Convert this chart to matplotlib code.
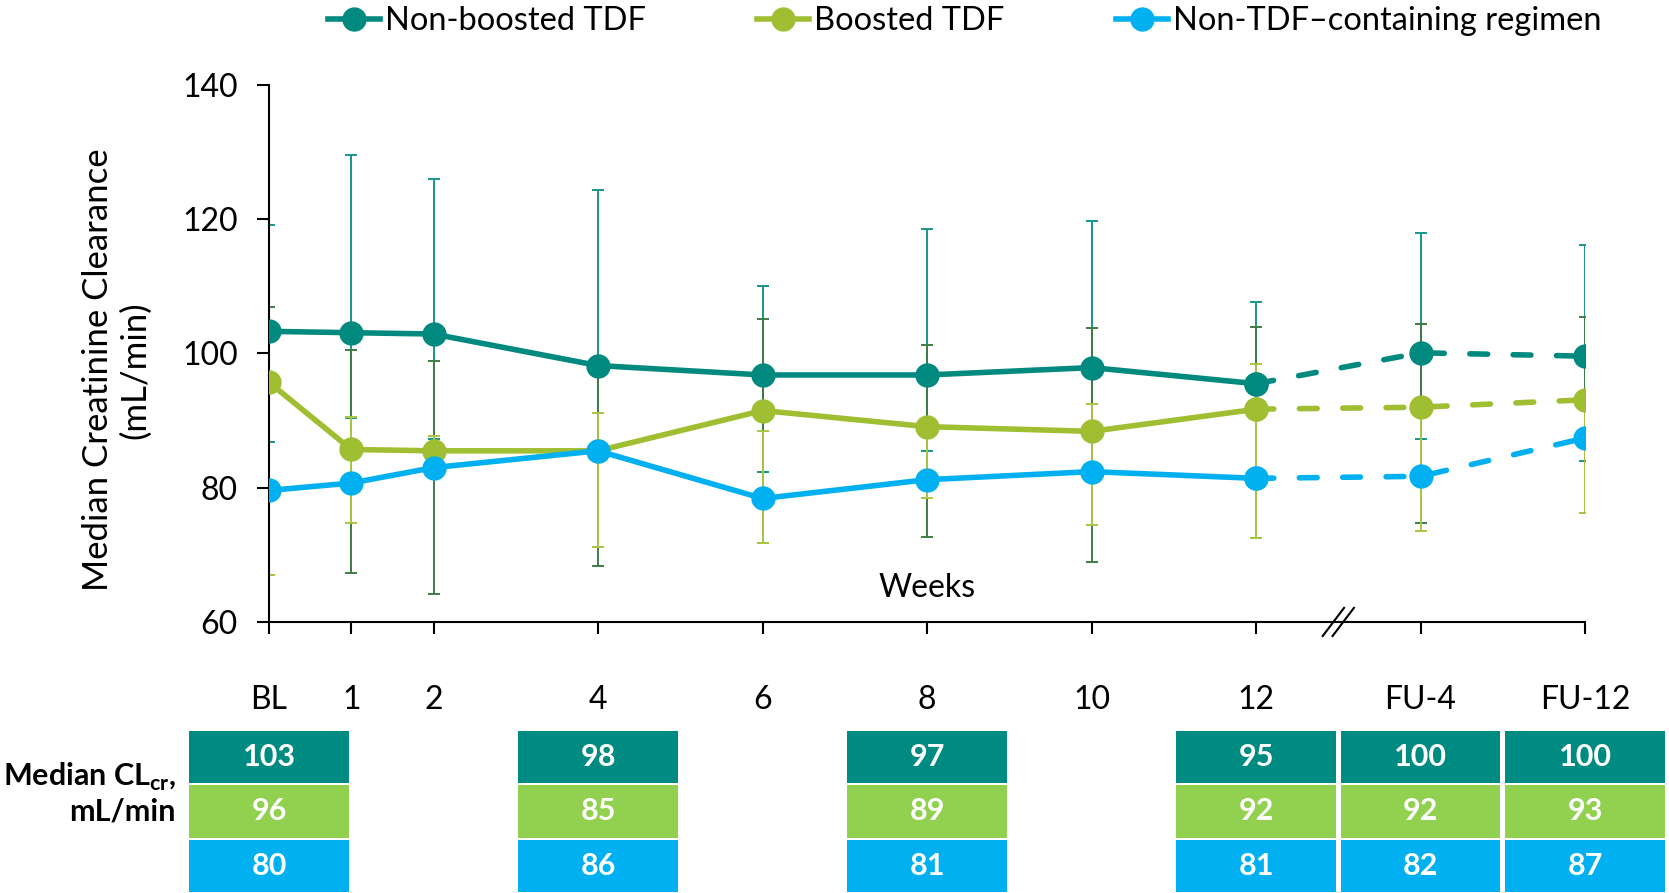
import matplotlib.pyplot as plt
from matplotlib.lines import Line2D
from matplotlib.patches import Rectangle

plt.rcParams['font.family'] = ['Lato', 'DejaVu Sans']
plt.rcParams['mathtext.fontset'] = 'custom'
plt.rcParams['mathtext.rm'] = 'Lato'
plt.rcParams['mathtext.bf'] = 'Lato:bold'

# x positions in weeks (FU visits drawn after a break)
weeks = [0, 1, 2, 4, 6, 8, 10, 12, 14, 16]
week_labels = ['BL', '1', '2', '4', '6', '8', '10', '12', 'FU-4', 'FU-12']

# medians
nb_med = [103.3, 103.1, 102.9, 98.2, 96.8, 96.8, 97.9, 95.5, 100.1, 99.6]
b_med = [95.7, 85.7, 85.5, 85.5, 91.5, 89.1, 88.4, 91.7, 92.0, 93.1]
nt_med = [79.6, 80.7, 83.0, 85.5, 78.4, 81.2, 82.4, 81.4, 81.7, 87.4]

# error bar ends
nb_lo = [86.8, 90.4, 87.3, 85.6, 82.3, 85.4, 82.5, 81.1, 87.3, 84.0]
nb_hi = [119.2, 129.6, 126.0, 124.3, 110.1, 118.6, 119.7, 107.7, 118.0, 116.1]
b_lo = [67.0, 67.3, 64.2, 68.4, 71.7, 72.7, 68.9, 72.5, 74.7, 76.2]
b_hi = [106.9, 100.5, 98.9, 98.2, 105.2, 101.3, 103.8, 103.9, 104.4, 105.5]
nt_lo = [67.0, 74.8, 81.9, 71.2, 71.7, 78.4, 74.4, 72.5, 73.6, 76.2]
nt_hi = [95.7, 90.6, 87.7, 91.1, 88.5, 89.1, 92.5, 98.4, 92.0, 93.1]

# table under the chart
tab_weeks = [0, 4, 8, 12, 14, 16]
tab_nb = [103, 98, 97, 95, 100, 100]
tab_b = [96, 85, 89, 92, 92, 93]
tab_nt = [80, 86, 81, 81, 82, 87]

names = ['Non-boosted TDF', 'Boosted TDF', 'Non-TDF\u2013containing regimen']
line_cols = ['#00897f', '#a0be32', '#00b0f0']
err_cols = ['#17968d', '#3f7b45', '#a8c640']
cell_cols = ['#008b82', '#92d050', '#00b0f0']

fig = plt.figure(figsize=(16.69, 8.93), dpi=100)
ax = fig.add_axes([0.1612, 0.3035, 0.7885, 0.6013])

series = [(nb_med, nb_lo, nb_hi), (b_med, b_lo, b_hi), (nt_med, nt_lo, nt_hi)]

# error bars first so the lines sit on top
for i, (med, lo, hi) in enumerate(series):
    yerr = [[m - l for m, l in zip(med, lo)], [h - m for m, h in zip(med, hi)]]
    ax.errorbar(weeks, med, yerr=yerr, fmt='none', ecolor=err_cols[i],
                elinewidth=1.4, capsize=4.5, capthick=1.4, zorder=1 + i * 0.1)

for i, (med, lo, hi) in enumerate(series):
    ax.plot(weeks[:8], med[:8], color=line_cols[i], lw=4, marker='o',
            ms=16.5, solid_capstyle='round', zorder=3 + i)
    ax.plot(weeks[7:], med[7:], color=line_cols[i], lw=4, marker='o',
            ms=16.5, linestyle=(0, (3.2, 4.6)), dash_capstyle='round', zorder=3 + i)

ax.set_xlim(0, 16)
ax.set_ylim(60, 140)
ax.set_yticks([60, 80, 100, 120, 140])
ax.set_xticks(weeks, week_labels)
for s in ['top', 'right']:
    ax.spines[s].set_visible(False)
for s in ['left', 'bottom']:
    ax.spines[s].set_linewidth(1.5)
ax.tick_params(axis='both', direction='out', length=8.5, width=1.5, labelsize=23)
ax.tick_params(axis='x', pad=37)
ax.tick_params(axis='y', pad=14)

# axis break between week 12 and follow-up
for off in (-0.06, 0.06):
    ax.plot([13 + off - 0.13, 13 + off + 0.13], [57.9, 62.1], color='black',
            lw=1.5, clip_on=False, zorder=6)

ax.text(8, 65.1, 'Weeks', fontsize=23, ha='center', va='center')

fig.text(0.0700, 0.586, 'Median Creatinine Clearance\n(mL/min)', rotation=90,
         fontsize=25, ha='center', va='center', multialignment='center')

handles = [Line2D([], [], color=c, lw=4, marker='o', ms=16.5) for c in line_cols]
fig.legend(handles, names, loc='center', bbox_to_anchor=(0.578, 0.976), ncol=3,
           frameon=False, fontsize=23.5, handlelength=1.6, handletextpad=0.15,
           columnspacing=3.4)

# table of medians
tab = fig.add_axes([0.1612, 0.0, 0.7885, 163 / 893])
tab.set_xlim(0, 16)
tab.set_ylim(3, 0)
tab.axis('off')
rows = [tab_nb, tab_b, tab_nt]
for r, vals in enumerate(rows):
    for wk, v in zip(tab_weeks, vals):
        tab.add_patch(Rectangle((wk - 0.972, r + 0.02), 1.944, 0.96,
                                facecolor=cell_cols[r], edgecolor='none', clip_on=False))
        tab.text(wk, r + 0.5, str(v), color='white', fontsize=22, fontweight='bold',
                 ha='center', va='center', clip_on=False)

fig.text(0.1055, 0.112, 'Median CL$_{\\mathbf{cr}}$,\nmL/min', fontsize=22,
         fontweight='bold', ha='right', va='center', multialignment='right',
         linespacing=1.2)

fig.savefig('out.png', dpi=100)
